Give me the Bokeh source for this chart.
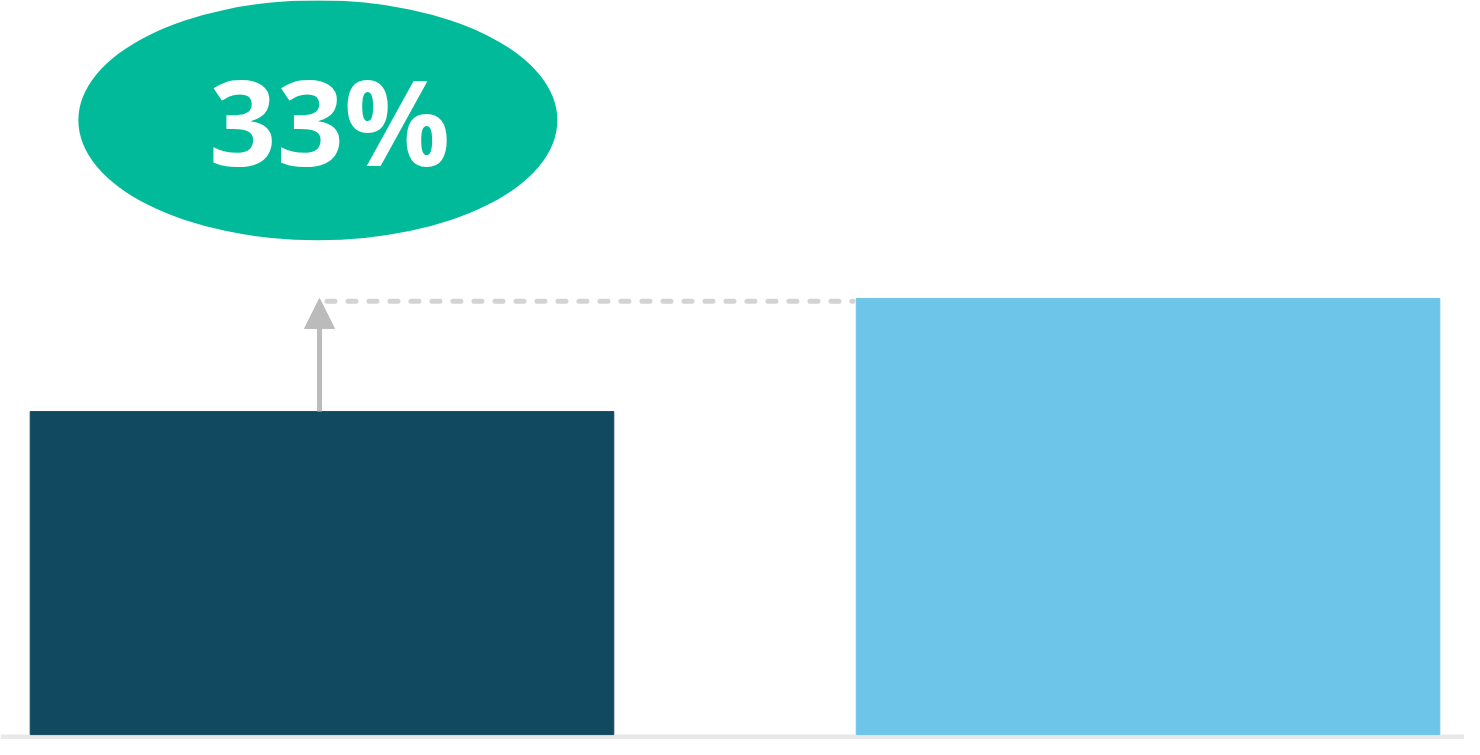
from bokeh.plotting import figure
from bokeh.models import Range1d, Arrow, NormalHead, BoxAnnotation
from bokeh.core.properties import value
from bokeh.embed import file_html
from bokeh.resources import INLINE

# ---- data ----
categories = ["Before", "After"]
values = [100, 135]
bar_colors = ["#114A60", "#6EC5EA"]
change_label = "33%"

# ---- layout ----
W, H = 1464, 739
xs = list(range(len(categories)))
bar_width = 0.7065
px_per_unit = 3.23
zero_px = 734.1  # distance of value 0 from frame top

p = figure(width=W, height=H, output_backend="svg", toolbar_location=None,
           x_axis_type=None, y_axis_type=None, min_border=0,
           x_range=Range1d(-0.3892, 1.3831),
           y_range=Range1d(-(H - zero_px) / px_per_unit, zero_px / px_per_unit))
p.grid.visible = False
p.outline_line_color = None
p.background_fill_color = "white"
p.border_fill_color = "white"

# baseline strip
p.add_layout(BoxAnnotation(top=0, fill_color="#E8E8E8", fill_alpha=1,
                           line_alpha=0, level="underlay"))

# bars
p.vbar(x=xs, top=values, bottom=0, width=bar_width, color=bar_colors)

# dotted reference line at the level of the taller bar
p.segment(x0=[xs[0] + 0.006], y0=[values[1] - 0.8],
          x1=[xs[1] - bar_width / 2 - 0.004], y1=[values[1] - 0.8],
          line_color="#D3D3D3", line_width=5, line_dash="8 13", line_cap="round")

# arrow from shorter bar up to the taller level
p.add_layout(Arrow(x_start=xs[0] - 0.003, y_start=values[0],
                   x_end=xs[0] - 0.003, y_end=values[1],
                   line_color="#BBBBBB", line_width=5,
                   end=NormalHead(size=30, fill_color="#BBBBBB", line_color="#BBBBBB",
                                  line_width=1)))

# label bubble
bubble_y = 190.2
p.ellipse(x=[xs[0] - 0.005], y=[bubble_y], width=479, height=240,
          width_units="screen", height_units="screen",
          fill_color="#00BA9A", line_color=None)
p.text(x=[xs[0] + 0.0092], y=[bubble_y], text=[change_label],
       text_font=value("Open Sans"), text_font_size="118px", text_font_style="bold",
       text_color="white", text_align="center", text_baseline="middle")

open("out.html", "w").write(file_html(p, INLINE))
